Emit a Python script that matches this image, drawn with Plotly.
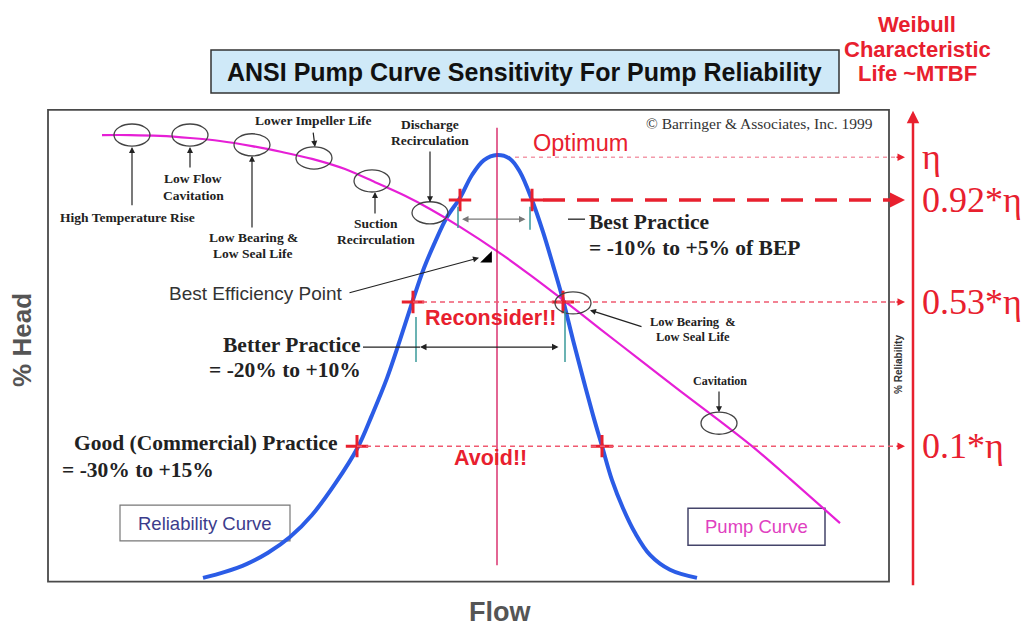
import plotly.graph_objects as go

# ---------------- data (Flow in % of BEP flow, head / reliability in % of peak) -------------
rel_flow = [41.2, 45.6, 50.0, 54.2, 58.6, 63.0, 67.6, 72.2, 75.0, 78.0, 80.6, 83.2, 85.4, 87.6,
            90.0, 92.6, 95.0, 97.4, 100.0, 102.6, 104.6, 107.0, 109.2, 111.2, 113.2, 115.2,
            117.2, 119.2, 121.0, 123.0, 125.2, 127.6, 130.6, 134.6, 140.0]
rel_value = [0.5, 1.9, 3.8, 6.4, 10.1, 15.3, 22.6, 31.3, 38.8, 47.5, 56.5, 65.9, 73.4, 79.5,
             85.4, 89.9, 95.3, 98.8, 100.0, 99.1, 96.0, 89.4, 81.9, 74.1, 65.9, 56.5,
             47.5, 38.8, 31.5, 23.5, 16.9, 11.1, 5.9, 2.4, 0.5]

pump_flow = [21.0, 26.6, 32.6, 38.6, 44.6, 51.0, 57.0, 63.0, 69.6, 75.6, 81.6, 86.6, 92.6,
             100.0, 106.6, 113.2, 120.6, 128.6, 136.6, 144.6, 151.0, 158.6, 168.6]
pump_head = [104.7, 104.7, 104.5, 104.0, 103.3, 102.1, 100.7, 99.1, 96.7, 93.6, 90.4, 87.3,
             83.1, 77.4, 71.8, 65.9, 59.1, 51.8, 44.5, 37.4, 31.5, 23.8, 13.4]

level_labels = ["η", "0.92*η", "0.53*η", "0.1*η"]
level_values = [99.5, 89.4, 65.4, 31.5]
level_start = [103.6, 109.2, 83.2, 72.0]

cross_low_flow = [92.6, 83.2, 72.0]
cross_high_flow = [107.0, 113.2, 121.0]
cross_levels = [89.4, 65.4, 31.5]

bep_flow = 100.0

fail_flow = [27.0, 38.6, 51.0, 63.4, 75.0, 86.6, 115.2, 144.4]
fail_head = [104.7, 104.7, 102.4, 99.3, 93.9, 86.4, 65.2, 36.9]

# ---------------- styles ----------------
SERIF = "Liberation Serif, Times New Roman, serif"
SANS = "Liberation Sans, Arial, sans-serif"
RED = "#e8202e"
LRED = "#f05a70"

fig = go.Figure()

# reliability curve
fig.add_trace(go.Scatter(x=rel_flow, y=rel_value, mode="lines",
                         line=dict(color="#2b5ce6", width=4, shape="spline", smoothing=1.0),
                         hoverinfo="skip"))
# pump curve
fig.add_trace(go.Scatter(x=pump_flow, y=pump_head, mode="lines",
                         line=dict(color="#e61fd6", width=2.2, shape="spline", smoothing=0.8),
                         hoverinfo="skip"))

shapes = []
# main frame
shapes.append(dict(type="rect", xref="x", yref="y", x0=10.2, x1=178.4, y0=-0.4, y1=110.6,
                   line=dict(color="#4a4a4a", width=1.8), layer="below"))
# title box
shapes.append(dict(type="rect", xref="x", yref="y", x0=42.8, x1=168.4, y0=114.6, y1=124.7,
                   fillcolor="#cfe9f8", line=dict(color="#333333", width=1.5), layer="below"))
# BEP vertical line
shapes.append(dict(type="line", xref="x", yref="y", x0=bep_flow, x1=bep_flow, y0=3.5, y1=106.4,
                   line=dict(color="#d4145a", width=1.3)))
# level lines
dash_styles = [("4px,4px", 1.5, "#f39aaa"), ("22px,12px", 3.5, RED),
               ("5px,4px", 1.5, LRED), ("5px,4px", 1.5, LRED)]
for lv, st, (d, w, c) in zip(level_values, level_start, dash_styles):
    shapes.append(dict(type="line", xref="x", yref="y", x0=st, x1=180.2, y0=lv, y1=lv,
                       line=dict(color=c, width=w, dash=d)))
# failure-mode ellipses
for fx, fy in zip(fail_flow, fail_head):
    shapes.append(dict(type="circle", xref="x", yref="y", x0=fx - 3.6, x1=fx + 3.6,
                       y0=fy - 2.6, y1=fy + 2.6, line=dict(color="#444444", width=1.3)))
# teal tick marks
for x0, y0, y1 in [(92.2, 82.8, 87.8), (106.6, 82.4, 87.8), (83.8, 51.3, 61.9), (113.6, 51.3, 63.5)]:
    shapes.append(dict(type="line", xref="x", yref="y", x0=x0, x1=x0, y0=y0, y1=y1,
                       line=dict(color="#3a9a9a", width=1.5)))
# connector lines
shapes.append(dict(type="line", xref="x", yref="y", x0=114.2, x1=117.6, y0=84.9, y1=84.9,
                   line=dict(color="#222", width=1.3)))
shapes.append(dict(type="line", xref="x", yref="y", x0=73.2, x1=84.6, y0=54.8, y1=54.8,
                   line=dict(color="#222", width=1.3)))
# legend boxes
shapes.append(dict(type="rect", xref="x", yref="y", x0=24.6, x1=58.6, y0=9.2, y1=17.6,
                   line=dict(color="#777777", width=1.2), layer="below"))
shapes.append(dict(type="rect", xref="x", yref="y", x0=138.2, x1=165.6, y0=8.2, y1=16.9,
                   line=dict(color="#44446a", width=1.5), layer="below"))

# crosses
fig.add_trace(go.Scatter(x=cross_low_flow + cross_high_flow, y=cross_levels + cross_levels,
                         mode="markers",
                         marker=dict(symbol="cross-thin", size=16,
                                     line=dict(color=RED, width=3)),
                         hoverinfo="skip"))
# BEP marker
fig.add_trace(go.Scatter(x=[bep_flow - 1.8], y=[75.6], mode="markers",
                         marker=dict(symbol="triangle-se", size=13, color="black"),
                         hoverinfo="skip"))

ann = []


def txt(x, y, text, size, color="#222", family=SERIF, xanchor="center", angle=0):
    ann.append(dict(x=x, y=y, xref="x", yref="y", text=text, showarrow=False,
                    font=dict(size=size, color=color, family=family),
                    xanchor=xanchor, yanchor="middle", textangle=angle))


def arr(hx, hy, tx, ty, color="#222", width=1.2, size=1.0, both=False):
    d = dict(x=hx, y=hy, ax=tx, ay=ty, xref="x", yref="y", axref="x", ayref="y",
             text="", showarrow=True, arrowhead=2, arrowsize=size, arrowwidth=width,
             arrowcolor=color, standoff=0, startstandoff=0)
    if both:
        d.update(arrowside="end+start", startarrowhead=2, startarrowsize=size)
    ann.append(d)


SM = 13.5
# small failure labels (serif bold)
txt(26.0, 85.2, "<b>High Temperature Rise</b>", SM)
arr(27.0, 101.9, 27.0, 87.8)
txt(39.2, 94.4, "<b>Low Flow</b>", SM)
txt(39.2, 90.4, "<b>Cavitation</b>", SM)
arr(38.6, 101.9, 38.6, 96.7)
txt(63.2, 108.2, "<b>Lower Impeller Life</b>", SM)
arr(63.6, 101.9, 63.2, 105.6)
txt(51.2, 80.7, "<b>Low Bearing &amp;</b>", SM)
txt(51.2, 76.9, "<b>Low Seal Life</b>", SM)
arr(51.0, 99.8, 51.0, 82.6)
txt(75.8, 83.8, "<b>Suction</b>", SM)
txt(75.8, 80.2, "<b>Recirculation</b>", SM)
arr(75.6, 91.3, 75.6, 85.9)
txt(86.6, 107.1, "<b>Discharge</b>", SM)
txt(86.6, 103.5, "<b>Recirculation</b>", SM)
arr(86.6, 88.9, 86.6, 101.2)
txt(139.2, 60.7, "<b>Low Bearing  &amp;</b>", 12.5)
txt(139.2, 57.2, "<b>Low Seal Life</b>", 12.5)
arr(118.6, 63.5, 129.2, 59.5)
txt(144.6, 46.8, "<b>Cavitation</b>", 12)
arr(144.4, 39.5, 144.4, 44.7)

txt(152.4, 107.3, "© Barringer &amp; Associates, Inc. 1999", 15.5, "#333")
txt(116.6, 102.8, "Optimum", 23.5, RED, SANS)

BIG = 21.5
txt(118.0, 84.2, "<b>Best Practice</b>", BIG, xanchor="left")
txt(118.0, 78.1, "<b>= -10% to +5% of BEP</b>", BIG, xanchor="left")
arr(93.0, 84.9, 106.0, 84.9, color="#777777", width=1.3, both=True)

txt(69.6, 67.5, "Best Efficiency Point", 19, "#333", SANS, xanchor="right")
arr(96.4, 75.8, 70.2, 67.5, width=1.2)

txt(98.6, 61.6, "<b>Reconsider!!</b>", 21.5, RED, SANS)
txt(73.0, 55.3, "<b>Better Practice</b>", BIG, xanchor="right")
txt(73.2, 49.4, "<b>= -20% to +10%</b>", BIG, xanchor="right")
arr(84.6, 54.8, 112.6, 54.8, width=1.3, both=True)

txt(68.4, 32.2, "<b>Good (Commercial) Practice</b>", BIG, xanchor="right")
txt(12.6, 25.9, "<b>= -30% to +15%</b>", BIG, xanchor="left")
txt(98.6, 28.7, "<b>Avoid!!</b>", 21.5, RED, SANS)

txt(41.6, 13.4, "Reliability Curve", 18.5, "#3c3c8c", SANS)
txt(151.9, 12.5, "Pump Curve", 18.5, "#e040c0", SANS)

txt(100.6, -7.5, "<b>Flow</b>", 27, "#555555", SANS)
txt(5.0, 56.5, "<b>% Head</b>", 26, "#555555", SANS, angle=-90)
txt(180.4, 50.6, "<b>% Reliability</b>", 10, "#333333", SANS, angle=-90)

txt(105.4, 119.6, "<b>ANSI Pump Curve Sensitivity For Pump Reliability</b>", 25, "#111111", SANS)

txt(184.0, 130.8, "<b>Weibull</b>", 22, RED, SANS)
txt(184.0, 124.9, "<b>Characteristic</b>", 22, RED, SANS)
txt(184.0, 119.1, "<b>Life ~MTBF</b>", 22, RED, SANS)

# reliability axis
arr(183.2, 110.4, 183.2, -1.6, color=RED, width=2.5, size=1.0)
# level arrowheads + labels
for lab, lv, w in zip(level_labels, level_values, [1.5, 3.0, 1.5, 1.5]):
    arr(181.6, lv, 179.6, lv, color=RED, width=w, size=1.0)
    txt(184.6, lv, lab, 36, RED, SERIF, xanchor="left")

fig.update_layout(
    width=1035, height=626, autosize=False,
    margin=dict(l=0, r=0, t=0, b=0, pad=0),
    paper_bgcolor="white", plot_bgcolor="white",
    showlegend=False,
    xaxis=dict(range=[0.6, 207.6], visible=False, fixedrange=True),
    yaxis=dict(range=[-10.82, 136.47], visible=False, fixedrange=True),
    shapes=shapes, annotations=ann,
)

fig.write_html("out.html", config={"displayModeBar": False},
               post_script="document.body.style.margin='0';document.body.style.overflow='hidden';")
